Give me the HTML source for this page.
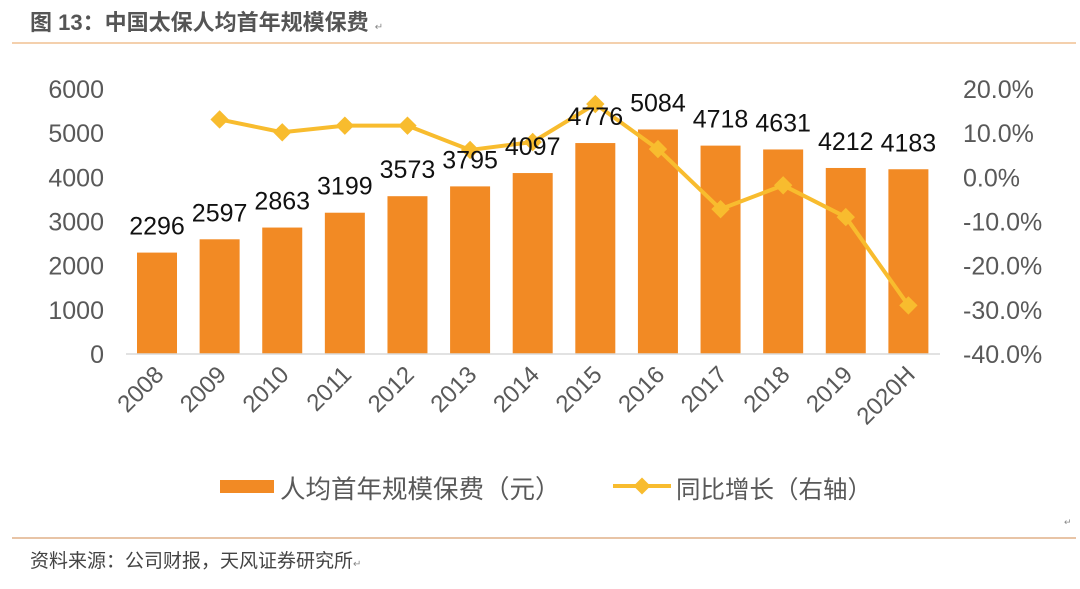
<!DOCTYPE html>
<html><head><meta charset="utf-8"><style>
body{margin:0;background:#fff;width:1080px;height:584px;overflow:hidden}
svg text{font-family:"Liberation Sans","Noto Sans CJK SC",sans-serif}
</style></head><body>
<svg id="c" width="1080" height="584" xmlns="http://www.w3.org/2000/svg">
<text x="30" y="30" font-size="22" font-weight="bold" fill="#555">图 13：中国太保人均首年规模保费 <tspan font-size="10" font-weight="normal" fill="#888">↵</tspan></text>
<line x1="12" y1="43" x2="1076" y2="43" stroke="#EDB47C" stroke-width="1.2"/>
<line x1="12" y1="538" x2="1076" y2="538" stroke="#D9A070" stroke-width="1.2"/>
<text x="1064" y="525" font-size="9" fill="#888">↵</text>
<text x="30" y="567" font-size="19" fill="#444">资料来源：公司财报，天风证券研究所<tspan font-size="10" fill="#888">↵</tspan></text>
<g id="plot"></g>
<g>
<rect x="220" y="480" width="54" height="13" fill="#F28A24"/>
<text x="280" y="498" font-size="25.5" fill="#595959">人均首年规模保费（元）</text>
<line x1="613" y1="486" x2="671" y2="486" stroke="#F8BC2E" stroke-width="4"/>
<rect x="636" y="480" width="12" height="12" fill="#F8BC2E" transform="rotate(45 642 486)"/>
<text x="676" y="498" font-size="24.5" fill="#595959">同比增长（右轴）</text>
</g>
</svg>
<script>
const categories=["2008","2009","2010","2011","2012","2013","2014","2015","2016","2017","2018","2019","2020H"];
const premiums=[2296,2597,2863,3199,3573,3795,4097,4776,5084,4718,4631,4212,4183];
const growth=[null,13.1,10.2,11.7,11.7,6.2,8.0,16.6,6.4,-7.2,-1.8,-9.0,-29.0];
const leftTicks=[0,1000,2000,3000,4000,5000,6000];
const rightTicks=[-40,-30,-20,-10,0,10,20];
const NS="http://www.w3.org/2000/svg";
const g=document.getElementById('plot');
const x0=126,x1=940,yB=354,yT=89;
const step=(x1-x0)/categories.length;
const xc=i=>x0+step*(i+0.5)-0.3;
const yL=v=>yB-(v/6000)*(yB-yT);
const yR=v=>yB-((v+40)/60)*(yB-yT);
function mk(t,a,p){const e=document.createElementNS(NS,t);for(const k in a)e.setAttribute(k,a[k]);(p||g).appendChild(e);return e;}
leftTicks.forEach(v=>{const t=mk('text',{x:104,y:yL(v)+9,'font-size':25,fill:'#595959','text-anchor':'end'});t.textContent=v;

});
rightTicks.forEach(v=>{const t=mk('text',{x:963,y:yR(v)+9,'font-size':25,fill:'#595959'});t.textContent=v.toFixed(1)+'%';

});
premiums.forEach((v,i)=>{const r=mk('rect',{x:xc(i)-20,y:yL(v),width:40,height:yB-yL(v),fill:'#F28A24'});

});
const ax=mk('line',{x1:x0,y1:yB,x2:x1,y2:yB,stroke:'#D9D9D9','stroke-width':1.5});


categories.forEach((c,i)=>{const px=xc(i)+8,py=yB+22;const t=mk('text',{x:px,y:py,'font-size':24,fill:'#595959','text-anchor':'end',transform:`rotate(-45 ${px} ${py})`});t.textContent=c;

});
let d='';growth.forEach((v,i)=>{if(v==null)return;d+=(d?'L':'M')+xc(i)+' '+yR(v);});
const pl=mk('path',{d:d,fill:'none',stroke:'#F8BC2E','stroke-width':4,'stroke-linejoin':'round'});


growth.forEach((v,i)=>{if(v==null)return;const m=mk('rect',{x:xc(i)-6.5,y:yR(v)-6.5,width:13,height:13,fill:'#F8BC2E',transform:`rotate(45 ${xc(i)} ${yR(v)})`});

});
premiums.forEach((v,i)=>{const t=mk('text',{x:xc(i),y:yL(v)-18,'font-size':25,fill:'#111','text-anchor':'middle'});t.textContent=v;

});
</script>
</body></html>
